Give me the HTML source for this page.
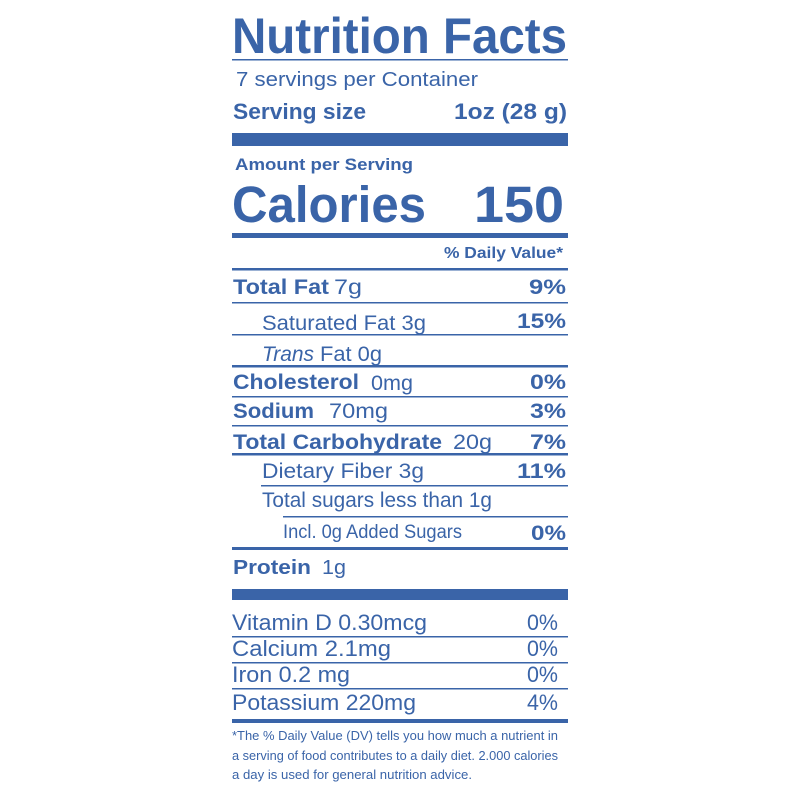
<!DOCTYPE html>
<html><head><style>html,body{margin:0;padding:0;background:#fff;width:800px;height:800px;overflow:hidden}</style></head>
<body>
<svg width="800" height="800" xmlns="http://www.w3.org/2000/svg" font-family="Liberation Sans, Arial, sans-serif" fill="#3a64a8">
<g>
<rect x="232" y="59" width="336" height="1.5"/>
<rect x="232" y="133" width="336" height="13"/>
<rect x="232" y="233" width="336" height="5"/>
<rect x="232" y="268" width="336" height="2.5"/>
<rect x="232" y="302" width="336" height="1.5"/>
<rect x="232" y="334" width="336" height="1.5"/>
<rect x="232" y="365" width="336" height="2.5"/>
<rect x="232" y="396" width="336" height="1.5"/>
<rect x="232" y="425" width="336" height="1.5"/>
<rect x="232" y="453" width="336" height="2.5"/>
<rect x="261" y="485" width="307" height="1.5"/>
<rect x="283" y="516" width="285" height="1.5"/>
<rect x="232" y="547" width="336" height="3"/>
<rect x="232" y="589" width="336" height="11"/>
<rect x="232" y="636" width="336" height="1.5"/>
<rect x="232" y="662" width="336" height="1.5"/>
<rect x="232" y="688" width="336" height="1.5"/>
<rect x="232" y="719" width="336" height="4"/>
</g>
<g font-weight="bold">
<text x="232" y="53" font-size="50" textLength="335" lengthAdjust="spacingAndGlyphs">Nutrition Facts</text>
<text x="233" y="119" font-size="22" textLength="133" lengthAdjust="spacingAndGlyphs">Serving size</text>
<text x="454" y="119" font-size="22" textLength="113" lengthAdjust="spacingAndGlyphs">1oz  (28 g)</text>
<text x="235" y="170" font-size="17" textLength="178" lengthAdjust="spacingAndGlyphs">Amount per Serving</text>
<text x="232" y="222" font-size="51" textLength="194" lengthAdjust="spacingAndGlyphs">Calories</text>
<text x="474" y="222" font-size="51" textLength="90" lengthAdjust="spacingAndGlyphs">150</text>
<text x="444" y="258" font-size="16" textLength="119" lengthAdjust="spacingAndGlyphs">% Daily Value*</text>
<text x="233" y="294" font-size="21" textLength="96" lengthAdjust="spacingAndGlyphs">Total Fat</text>
<text x="529" y="294" font-size="21" textLength="37" lengthAdjust="spacingAndGlyphs">9%</text>
<text x="517" y="328" font-size="21" textLength="49" lengthAdjust="spacingAndGlyphs">15%</text>
<text x="233" y="389" font-size="21" textLength="126" lengthAdjust="spacingAndGlyphs">Cholesterol</text>
<text x="530" y="389" font-size="21" textLength="36" lengthAdjust="spacingAndGlyphs">0%</text>
<text x="233" y="418" font-size="21" textLength="81" lengthAdjust="spacingAndGlyphs">Sodium</text>
<text x="530" y="418" font-size="21" textLength="36" lengthAdjust="spacingAndGlyphs">3%</text>
<text x="233" y="449" font-size="21" textLength="209" lengthAdjust="spacingAndGlyphs">Total Carbohydrate</text>
<text x="530" y="449" font-size="21" textLength="36" lengthAdjust="spacingAndGlyphs">7%</text>
<text x="517" y="478" font-size="21" textLength="49" lengthAdjust="spacingAndGlyphs">11%</text>
<text x="531" y="540" font-size="21" textLength="35" lengthAdjust="spacingAndGlyphs">0%</text>
<text x="233" y="574" font-size="20" textLength="78" lengthAdjust="spacingAndGlyphs">Protein</text>
</g>
<g>
<text x="236" y="86" font-size="20" textLength="242" lengthAdjust="spacingAndGlyphs">7 servings per Container</text>
<text x="334" y="294" font-size="21" textLength="28" lengthAdjust="spacingAndGlyphs">7g</text>
<text x="262" y="330" font-size="21" textLength="164" lengthAdjust="spacingAndGlyphs">Saturated Fat 3g</text>
<text x="262" y="361" font-size="21" font-style="italic" textLength="52" lengthAdjust="spacingAndGlyphs">Trans</text>
<text x="320" y="361" font-size="21" textLength="62" lengthAdjust="spacingAndGlyphs">Fat 0g</text>
<text x="371" y="390" font-size="21" textLength="42" lengthAdjust="spacingAndGlyphs">0mg</text>
<text x="329" y="418" font-size="21" textLength="59" lengthAdjust="spacingAndGlyphs">70mg</text>
<text x="453" y="449" font-size="21" textLength="39" lengthAdjust="spacingAndGlyphs">20g</text>
<text x="262" y="478" font-size="21" textLength="162" lengthAdjust="spacingAndGlyphs">Dietary Fiber 3g</text>
<text x="262" y="507" font-size="21" textLength="230" lengthAdjust="spacingAndGlyphs">Total sugars less than 1g</text>
<text x="283" y="538" font-size="19" textLength="179" lengthAdjust="spacingAndGlyphs">Incl. 0g Added Sugars</text>
<text x="322" y="574" font-size="20" textLength="24" lengthAdjust="spacingAndGlyphs">1g</text>
<text x="232" y="630" font-size="22" textLength="195" lengthAdjust="spacingAndGlyphs">Vitamin D 0.30mcg</text>
<text x="527" y="630" font-size="22" textLength="31" lengthAdjust="spacingAndGlyphs">0%</text>
<text x="232" y="656" font-size="22" textLength="159" lengthAdjust="spacingAndGlyphs">Calcium 2.1mg</text>
<text x="527" y="656" font-size="22" textLength="31" lengthAdjust="spacingAndGlyphs">0%</text>
<text x="232" y="682" font-size="22" textLength="118" lengthAdjust="spacingAndGlyphs">Iron 0.2 mg</text>
<text x="527" y="682" font-size="22" textLength="31" lengthAdjust="spacingAndGlyphs">0%</text>
<text x="232" y="710" font-size="22" textLength="184" lengthAdjust="spacingAndGlyphs">Potassium 220mg</text>
<text x="527" y="710" font-size="22" textLength="31" lengthAdjust="spacingAndGlyphs">4%</text>
<text x="232" y="740" font-size="13" textLength="326" lengthAdjust="spacingAndGlyphs">*The % Daily Value (DV) tells you how much a nutrient in</text>
<text x="232" y="760" font-size="13" textLength="326" lengthAdjust="spacingAndGlyphs">a serving of food contributes to a daily diet. 2.000 calories</text>
<text x="232" y="779" font-size="13" textLength="240" lengthAdjust="spacingAndGlyphs">a day is used for general nutrition advice.</text>
</g>
</svg>
</body></html>
